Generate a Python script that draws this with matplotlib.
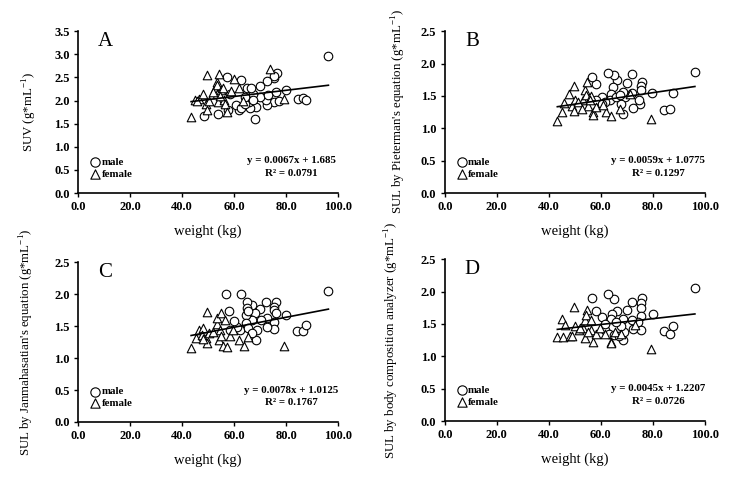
"""Four scatter panels: SUV / SUL against body weight, with linear fits."""

import matplotlib
import matplotlib.pyplot as plt

matplotlib.use("AGG")

plt.rcParams["font.family"] = ["Liberation Serif", "DejaVu Serif"]
plt.rcParams["mathtext.fontset"] = "custom"
plt.rcParams["mathtext.rm"] = "Liberation Serif"

# Panel A: SUV
a_male_x = [96.3, 84.5, 86.7, 87.7, 80.0, 76.0, 76.4, 75.4, 75.4, 72.6, 70.0, 75.5,
            72.6, 72.2, 70.0, 67.4, 68.6, 68.2, 66.2, 65.8, 64.9, 66.4, 62.7, 61.9,
            60.6, 62.6, 64.2, 64.2, 67.4, 57.2, 57.7, 53.7, 48.6, 58.5, 73.2, 77.4]
a_male_y = [2.96, 2.04, 2.06, 2.01, 2.22, 2.19, 2.60, 2.49, 2.52, 2.42, 2.32, 1.96,
            1.91, 2.02, 2.08, 2.14, 1.85, 1.59, 1.83, 1.96, 2.28, 2.26, 2.44, 1.79,
            1.90, 1.83, 1.93, 2.08, 2.01, 2.50, 1.79, 1.70, 1.67, 2.14, 2.11, 2.00]
a_female_x = [43.5, 45.0, 46.5, 47.9, 49.7, 49.1, 49.5, 50.5, 52.7, 53.5, 53.6, 54.4,
              53.6, 54.0, 54.9, 55.6, 56.2, 56.5, 57.2, 58.8, 60.0, 62.1, 63.5, 73.8,
              79.2, 45.6, 54.6, 52.1]
a_female_y = [1.65, 2.02, 2.03, 2.14, 2.55, 1.93, 1.80, 1.99, 2.27, 2.40, 2.33, 2.58,
              2.15, 1.97, 2.22, 2.28, 2.01, 1.92, 1.75, 2.21, 2.46, 2.26, 2.00, 2.69,
              2.04, 1.98, 2.10, 2.19]

# Panel B: SUL by Pieterman's equation
b_male_x = [96.2, 84.2, 86.8, 87.6, 79.7, 76.0, 75.6, 75.4, 75.0, 74.6, 72.2, 72.2,
            72.4, 70.0, 69.2, 68.6, 68.6, 67.8, 66.3, 65.0, 62.6, 64.7, 64.1, 63.5,
            66.0, 60.3, 58.0, 56.7, 58.3, 61.5, 60.3, 67.3]
b_male_y = [1.87, 1.28, 1.30, 1.55, 1.55, 1.72, 1.65, 1.59, 1.37, 1.44, 1.84, 1.55,
            1.31, 1.70, 1.48, 1.56, 1.22, 1.38, 1.74, 1.82, 1.86, 1.63, 1.53, 1.43,
            1.48, 1.48, 1.68, 1.79, 1.43, 1.41, 1.38, 1.51]
b_female_x = [43.3, 44.9, 45.9, 47.7, 49.7, 49.0, 49.7, 50.0, 53.2, 53.8, 54.7, 54.2,
              55.1, 56.4, 57.1, 57.1, 58.3, 61.9, 64.1, 67.3, 71.2, 79.2, 51.3, 55.8,
              52.6, 61.0]
b_female_y = [1.12, 1.25, 1.39, 1.53, 1.65, 1.34, 1.26, 1.43, 1.44, 1.59, 1.72, 1.51,
              1.34, 1.50, 1.25, 1.20, 1.33, 1.25, 1.19, 1.30, 1.53, 1.14, 1.41, 1.43,
              1.30, 1.36]

# Panel C: SUL by Janmahasatian's equation
c_male_x = [96.3, 84.1, 86.7, 87.6, 80.0, 76.0, 75.5, 75.4, 76.0, 75.4, 75.5, 72.2,
            72.6, 72.6, 70.0, 70.4, 68.6, 68.7, 68.1, 67.1, 66.8, 65.1, 65.1, 64.6,
            65.5, 64.6, 62.7, 62.3, 61.0, 60.1, 58.2, 56.9, 58.5, 65.5, 67.1]
c_male_y = [2.05, 1.42, 1.42, 1.52, 1.67, 1.88, 1.80, 1.75, 1.71, 1.56, 1.46, 1.87,
            1.62, 1.49, 1.76, 1.60, 1.28, 1.44, 1.70, 1.83, 1.60, 1.87, 1.78, 1.67,
            1.73, 1.54, 2.00, 1.44, 1.49, 1.58, 1.73, 2.00, 1.44, 1.47, 1.39]
c_female_x = [43.5, 45.4, 46.5, 47.9, 49.7, 49.2, 49.7, 50.5, 53.3, 53.6, 54.9, 54.6,
              54.2, 55.9, 57.2, 56.5, 58.5, 59.7, 62.1, 64.0, 65.5, 79.2, 52.1, 55.1,
              47.6, 48.2]
c_female_y = [1.15, 1.32, 1.43, 1.47, 1.72, 1.31, 1.23, 1.39, 1.53, 1.62, 1.71, 1.44,
              1.28, 1.18, 1.17, 1.60, 1.34, 1.44, 1.28, 1.18, 1.33, 1.19, 1.41, 1.34,
              1.36, 1.30]

# Panel D: SUL by body composition analyzer
d_male_x = [96.2, 84.2, 86.8, 87.6, 79.9, 76.0, 75.3, 75.3, 75.6, 75.3, 74.4, 72.2,
            72.4, 72.1, 70.0, 68.6, 68.6, 69.0, 67.7, 66.3, 65.0, 62.6, 64.4, 64.1,
            66.0, 60.3, 58.0, 56.7, 61.5, 63.2, 65.1, 61.5, 67.2]
d_male_y = [2.06, 1.39, 1.35, 1.46, 1.66, 1.90, 1.82, 1.75, 1.62, 1.41, 1.53, 1.84,
            1.42, 1.56, 1.71, 1.58, 1.25, 1.38, 1.46, 1.70, 1.89, 1.96, 1.66, 1.58,
            1.53, 1.60, 1.70, 1.90, 1.40, 1.35, 1.33, 1.50, 1.31]
d_female_x = [43.3, 44.9, 45.6, 46.1, 48.1, 49.0, 49.7, 50.0, 51.5, 53.2, 53.8, 54.7,
              54.2, 53.8, 56.4, 57.1, 56.4, 58.3, 61.5, 64.1, 64.1, 65.6, 67.9, 73.1,
              79.2, 55.1, 51.9, 59.6]
d_female_y = [1.29, 1.58, 1.30, 1.48, 1.31, 1.31, 1.76, 1.46, 1.41, 1.43, 1.56, 1.71,
              1.64, 1.28, 1.56, 1.22, 1.40, 1.35, 1.35, 1.22, 1.20, 1.38, 1.35, 1.48,
              1.12, 1.38, 1.44, 1.43]

panel_letters = ["A", "B", "C", "D"]
y_labels = ["SUV (g*mL$^{\\mathregular{-1}}$)",
            "SUL by Pieterman's equation (g*mL$^{\\mathregular{-1}}$)",
            "SUL by Janmahasatian's equation (g*mL$^{\\mathregular{-1}}$)",
            "SUL by body composition analyzer (g*mL$^{\\mathregular{-1}}$)"]
y_max = [3.5, 2.5, 2.5, 2.5]
slopes = [0.0067, 0.0059, 0.0078, 0.0045]
intercepts = [1.685, 1.0775, 1.0125, 1.2207]
eq_texts = ["y = 0.0067x + 1.685", "y = 0.0059x + 1.0775",
            "y = 0.0078x + 1.0125", "y = 0.0045x + 1.2207"]
r2_texts = ["R² = 0.0791", "R² = 0.1297", "R² = 0.1767", "R² = 0.0726"]
x_ticks = [0, 20, 40, 60, 80, 100]

panels = [
    (a_male_x, a_male_y, a_female_x, a_female_y),
    (b_male_x, b_male_y, b_female_x, b_female_y),
    (c_male_x, c_male_y, c_female_x, c_female_y),
    (d_male_x, d_male_y, d_female_x, d_female_y),
]

# axes rectangles in figure fractions
rects = [
    [0.104, 0.597, 0.3467, 0.338],
    [0.593, 0.597, 0.3467, 0.338],
    [0.104, 0.119, 0.3467, 0.334],
    [0.593, 0.121, 0.3467, 0.338],
]
ylabel_x = [-0.15, -0.14, -0.16, -0.17]

fig = plt.figure(figsize=(7.5, 4.79), dpi=100)

for i, (mx, my, fx, fy) in enumerate(panels):
    ax = fig.add_axes(rects[i])
    ax.scatter(mx, my, s=38, marker="o", facecolors="white",
               edgecolors="black", linewidths=0.8, zorder=3)
    ax.scatter(fx, fy, s=38, marker="^", facecolors="white",
               edgecolors="black", linewidths=0.8, zorder=3)

    all_x = mx + fx
    x0, x1 = min(all_x), max(all_x)
    ax.plot([x0, x1], [slopes[i] * x0 + intercepts[i], slopes[i] * x1 + intercepts[i]],
            color="black", lw=1.2, zorder=4)

    ax.set_xlim(0, 100)
    ax.set_ylim(0, y_max[i])
    ax.set_xticks(x_ticks)
    ax.set_xticklabels(["{:.1f}".format(t) for t in x_ticks])
    yt = [k * 0.5 for k in range(int(y_max[i] / 0.5) + 1)]
    ax.set_yticks(yt)
    ax.set_yticklabels(["{:.1f}".format(t) for t in yt])
    for lab in ax.get_xticklabels() + ax.get_yticklabels():
        lab.set_fontweight("bold")
        lab.set_fontsize(9)
    ax.tick_params(direction="out", length=3, width=1, pad=3)
    for side in ["top", "right"]:
        ax.spines[side].set_visible(False)
    for side in ["left", "bottom"]:
        ax.spines[side].set_linewidth(1.2)

    ax.set_xlabel("weight (kg)", fontsize=10.5, labelpad=8)
    ax.set_ylabel(y_labels[i], fontsize=9.3)
    ax.yaxis.set_label_coords(ylabel_x[i], 0.5)

    ax.text(0.105, 0.935, panel_letters[i], transform=ax.transAxes,
            fontsize=15, ha="center", va="center")

    # legend
    ax.scatter([0.065], [0.19], s=45, marker="o", facecolors="white",
               edgecolors="black", linewidths=0.8, transform=ax.transAxes, clip_on=False)
    ax.scatter([0.065], [0.117], s=45, marker="^", facecolors="white",
               edgecolors="black", linewidths=0.8, transform=ax.transAxes, clip_on=False)
    ax.text(0.09, 0.19, "male", transform=ax.transAxes, fontsize=7.8,
            fontweight="bold", va="center")
    ax.text(0.09, 0.117, "female", transform=ax.transAxes, fontsize=7.8,
            fontweight="bold", va="center")

    ax.text(0.82, 0.2, eq_texts[i], transform=ax.transAxes, fontsize=7.8,
            fontweight="bold", ha="center", va="center")
    ax.text(0.82, 0.123, r2_texts[i], transform=ax.transAxes, fontsize=7.8,
            fontweight="bold", ha="center", va="center")

fig.savefig("out.png", dpi=100)
